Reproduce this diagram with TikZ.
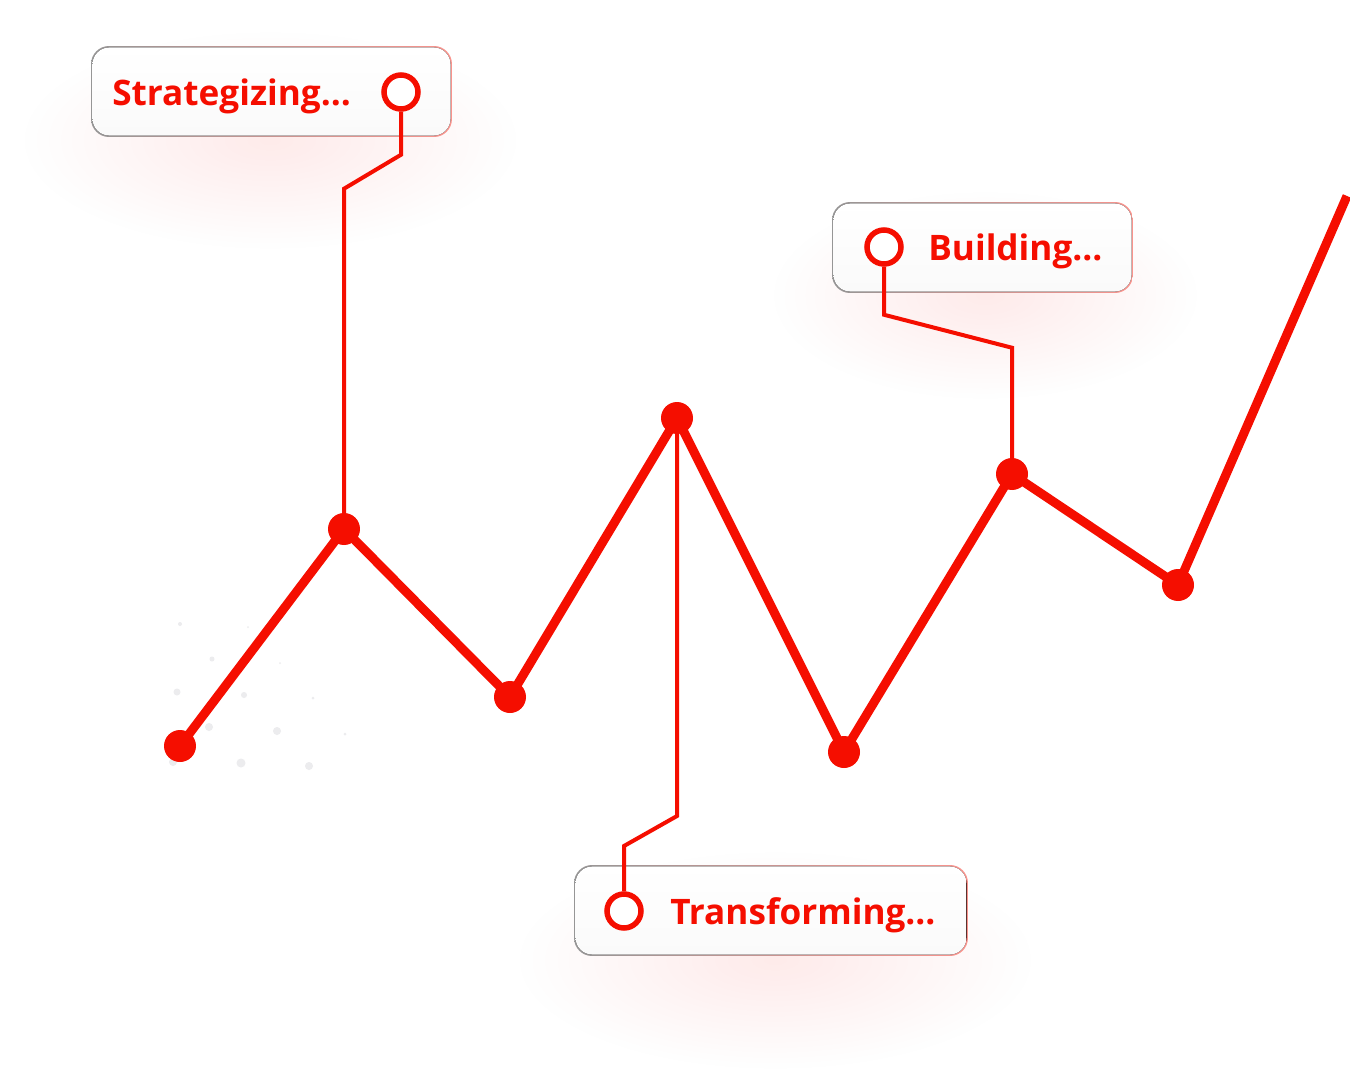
\documentclass[tikz,border=0pt]{standalone}
\usepackage{fontspec}
\setmainfont{Open Sans}
\usetikzlibrary{positioning,fadings,shapes.geometric}
\definecolor{trendred}{RGB}{245,14,0}
\definecolor{tagedge}{RGB}{150,150,150}
\definecolor{speck}{RGB}{236,236,238}
\tikzfading[name=softglow, inner color=transparent!35, outer color=transparent!100]

\tikzstyle{dot} = [circle, fill=trendred, minimum size=0.64cm, inner sep=0pt]
\tikzstyle{ring} = [circle, draw=trendred, line width=0.11cm, fill=white, minimum size=0.68cm, inner sep=0pt]
\tikzstyle{trend} = [draw=trendred, line width=0.18cm, line join=round]
\tikzstyle{lead} = [draw=trendred, line width=0.08cm]
\tikzstyle{tagbox} = [rectangle, rounded corners=0.36cm, inner sep=0pt, minimum height=1.82cm, left color=tagedge, right color=trendred!45,
  path picture={\fill[top color=white, bottom color=gray!4, rounded corners=0.34cm] ([shift={(0.8pt,-0.8pt)}]path picture bounding box.north west) rectangle ([shift={(-0.8pt,0.8pt)}]path picture bounding box.south east);}]
\tikzstyle{tagtext} = [anchor=base west, inner sep=0pt, text=trendred, font=\fontsize{20pt}{24pt}\selectfont\bfseries]
\tikzstyle{glow} = [fill=trendred, opacity=0.13, path fading=softglow]

\begin{document}
\begin{tikzpicture}[x=0.02cm, y=-0.02cm]
\useasboundingbox (0,0) rectangle (1350,1092);
\fill[white] (0,0) rectangle (1350,1092);

% soft glow under the tags
\fill[glow] (270,140) ellipse (250 and 110);
\fill[glow] (985,295) ellipse (215 and 105);
\fill[glow] (775,960) ellipse (260 and 110);

% specks
\foreach \x/\y/\r in {180/624/2, 248/627/1, 212/659/2.5, 280/663/1, 177/692/3.5, 244/695/3, 313/698/1.5,
  209/727/4, 277/731/4, 345/734/1.5, 173/762/4, 241/763/4.5, 309/766/4}
  \fill[speck] (\x,\y) circle (\r);

% tags
\node (tagS) [tagbox, minimum width=7.22cm] at (271.5,91.5) {};
\node (tagB) [tagbox, minimum width=6.02cm] at (982.5,247.5) {};
\node (tagT) [tagbox, minimum width=7.88cm] at (771,910.5) {};

\node (ringS) [ring] at (401,92) {};
\node (ringB) [ring] at (884,247) {};
\node (ringT) [ring] at (624,911) {};

\node (txtS) [tagtext] at (112,105) {Strategizing...};
\node (txtB) [tagtext] at (928,260) {Building...};
\node (txtT) [tagtext] at (670,924) {Transforming...};

% trend points
\node (p1) [dot] at (180,746) {};
\node (p2) [dot] at (344,529) {};
\node (p3) [dot] at (510,697) {};
\node (p4) [dot] at (677,418) {};
\node (p5) [dot] at (844,752) {};
\node (p6) [dot] at (1012,474) {};
\node (p7) [dot] at (1178,585) {};
\coordinate (tip) at (1347,196);

\draw [lead] (ringS.south) -- ++(0,43) -- ++(-57,34) -- (p2.center);
\draw [lead] (ringB.south) -- ++(0,48) -- ++(128,33) -- (p6.center);
\draw [lead] (p4.center) -- ++(0,398) -- ++(-53,30) -- (ringT.north);

\draw [trend] (p1.center) -- (p2.center) -- (p3.center) -- (p4.center) -- (p5.center) -- (p6.center) -- (p7.center) -- (tip);

\end{tikzpicture}
\end{document}
